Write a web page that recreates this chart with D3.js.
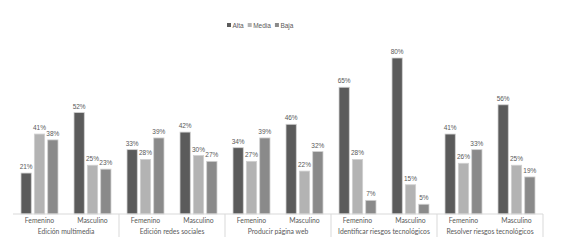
<!DOCTYPE html>
<html>
<head>
<meta charset="utf-8">
<script src="https://cdn.jsdelivr.net/npm/d3@7"></script>
<style>
  body { margin: 0; background: #fff; }
</style>
</head>
<body>
<div id="chart"></div>
<script>
// Data.
const categories = ['Edición multimedia', 'Edición redes sociales', 'Producir página web',
                    'Identificar riesgos tecnológicos', 'Resolver riesgos tecnológicos'];
const genders = ['Femenino', 'Masculino'];
const series = ['Alta', 'Media', 'Baja'];
// values[series][category][gender]
const alta  = [[21, 52], [33, 42], [34, 46], [65, 80], [41, 56]];
const media = [[41, 25], [28, 30], [27, 22], [28, 15], [26, 25]];
const baja  = [[38, 23], [39, 27], [39, 32], [7, 5], [33, 19]];
const colors = ['#5b5b5b', '#b3b3b3', '#8a8a8a'];

const W = 571, H = 248;
const svg = d3.select('#chart').append('svg')
    .attr('width', W)
    .attr('height', H)
    .attr('font-family', 'Lato, sans-serif');

const arial = "'Liberation Sans', Arial, sans-serif";

// Scales.
const xCat = d3.scaleBand().domain(categories).range([13, 543]);
const xGen = d3.scaleBand().domain(genders).range([0, xCat.bandwidth()]);
const xSer = d3.scaleBand().domain(series).range([0, xGen.bandwidth()])
    .paddingInner(0.23).paddingOuter(0.6);
const y = d3.scaleLinear().domain([0, 100]).range([214, 19]);

// Flatten for drawing.
const rows = [];
[alta, media, baja].forEach((arr, si) => {
    arr.forEach((pair, ci) => {
        pair.forEach((v, gi) => {
            rows.push({ s: series[si], c: categories[ci], g: genders[gi], v: v, col: colors[si] });
        });
    });
});
const bx = d => xCat(d.c) + xGen(d.g) + xSer(d.s);

// Bars.
svg.selectAll('.bar')
    .data(rows)
    .join('rect')
        .attr('class', 'bar')
        .attr('x', bx)
        .attr('y', d => y(d.v))
        .attr('width', xSer.bandwidth())
        .attr('height', d => y(0) - y(d.v))
        .attr('fill', d => d.col)
        .attr('stroke', '#d0d0d0')
        .attr('stroke-width', 0.8);

// Value labels.
svg.selectAll('.val')
    .data(rows)
    .join('text')
        .attr('class', 'val')
        .attr('x', d => bx(d) + xSer.bandwidth() / 2)
        .attr('y', d => y(d.v) - 4)
        .attr('text-anchor', 'middle')
        .attr('font-family', arial)
        .attr('font-size', '6.5px')
        .attr('fill', '#595959')
        .text(d => d.v + '%');

// X axis line.
svg.append('line')
    .attr('x1', 13).attr('x2', 543)
    .attr('y1', y(0)).attr('y2', y(0))
    .attr('stroke', '#d9d9d9');

// Category separators.
svg.selectAll('.sep')
    .data(categories)
    .join('line')
        .attr('class', 'sep')
        .attr('x1', d => xCat(d) + xCat.bandwidth())
        .attr('x2', d => xCat(d) + xCat.bandwidth())
        .attr('y1', y(0)).attr('y2', 237)
        .attr('stroke', '#d9d9d9');

// Gender labels.
categories.forEach(c => {
    svg.selectAll(null)
        .data(genders)
        .join('text')
            .attr('x', g => xCat(c) + xGen(g) + xGen.bandwidth() / 2)
            .attr('y', 223)
            .attr('text-anchor', 'middle')
            .attr('font-size', '6.8px')
            .attr('fill', '#595959')
            .text(g => g);
});

// Category labels.
svg.selectAll('.cat')
    .data(categories)
    .join('text')
        .attr('class', 'cat')
        .attr('x', d => xCat(d) + xCat.bandwidth() / 2)
        .attr('y', 234)
        .attr('text-anchor', 'middle')
        .attr('font-size', '6.8px')
        .attr('fill', '#595959')
        .text(d => d);

// Legend.
const leg = svg.append('g').attr('transform', 'translate(227,23)');
let lx = 0;
series.forEach((s, i) => {
    const g = leg.append('g').attr('transform', `translate(${lx},0)`);
    g.append('rect')
        .attr('width', 4).attr('height', 4)
        .attr('fill', colors[i]);
    const t = g.append('text')
        .attr('x', 5.5).attr('y', 4.5)
        .attr('font-family', arial)
        .attr('font-size', '6.5px')
        .attr('fill', '#595959')
        .text(s);
    lx += 5.5 + t.node().getComputedTextLength() + 4;
});
</script>
</body>
</html>
